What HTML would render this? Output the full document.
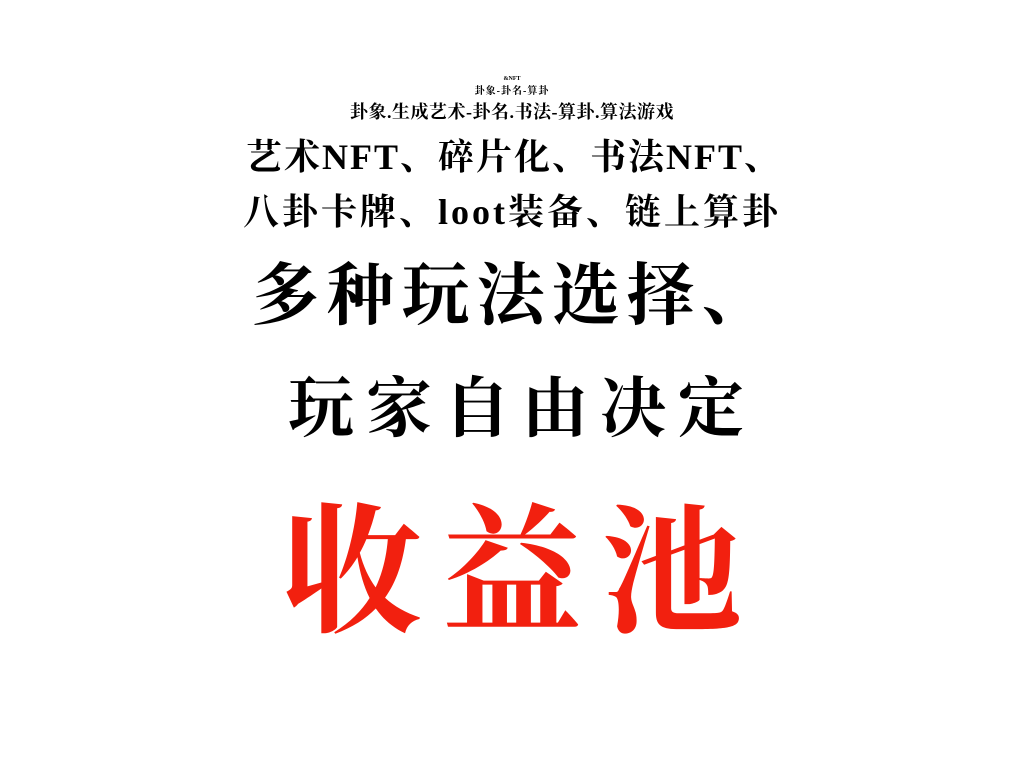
<!DOCTYPE html>
<html><head><meta charset="utf-8"><style>
html,body{margin:0;padding:0;background:#fff;}
body{width:1024px;height:768px;position:relative;overflow:hidden;font-family:"Liberation Serif","Noto Serif CJK SC",serif;color:#000;font-weight:bold;}
.t{position:absolute;left:0;width:1024px;text-align:center;white-space:nowrap;line-height:1;box-sizing:border-box;}
</style></head><body>
<div class="t" style="top:76px;font-size:6px;">&amp;NFT</div>
<div class="t" style="top:87px;font-size:10px;letter-spacing:1px;">卦象-卦名-算卦</div>
<div class="t" style="top:103px;font-size:18px;letter-spacing:0.5px;">卦象.生成艺术-卦名.书法-算卦.算法游戏</div>
<div class="t" style="top:139px;font-size:36px;letter-spacing:2px;padding-left:4px;">艺术NFT、碎片化、书法NFT、</div>
<div class="t" style="top:194px;font-size:36px;letter-spacing:3px;">八卦卡牌、loot装备、链上算卦</div>
<div class="t" style="top:262px;font-size:68px;letter-spacing:7px;padding-left:4px;">多种玩法选择、</div>
<div class="t" style="top:377px;font-size:66px;letter-spacing:12px;padding-left:20px;">玩家自由决定</div>
<div class="t" style="top:505px;font-size:140px;letter-spacing:20px;color:#f2200f;padding-left:20px;">收益池</div>
</body></html>
